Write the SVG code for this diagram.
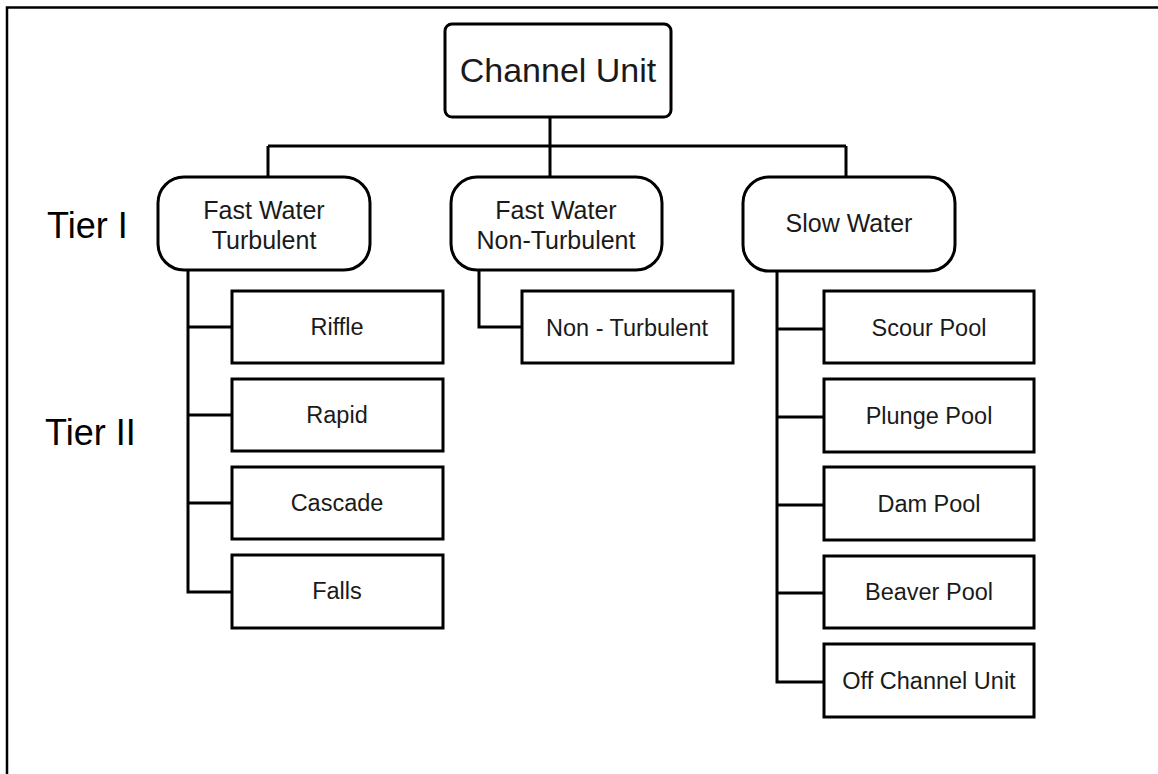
<svg xmlns="http://www.w3.org/2000/svg" width="1158" height="774" viewBox="0 0 1158 774">
<style>
.box{fill:#fff;stroke:#000;stroke-width:3}
.con{fill:none;stroke:#000;stroke-width:3}
text{font-family:"Liberation Sans",Arial,sans-serif;fill:#1a1a1a;text-anchor:middle}
.t1{font-size:25px}
.t2{font-size:23.5px}
.tier{font-size:36px;text-anchor:start;fill:#000}
</style>
<rect x="0" y="0" width="1158" height="774" fill="#fff"/>
<path d="M7,774 V7.5 H1158" fill="none" stroke="#000" stroke-width="2.5"/>
<g id="connectors">
<path class="con" d="M550,117 V146 M268,146 H846 M268,146 V177 M550,146 V177 M846,146 V177"/>
<path class="con" d="M188,270 V592 H232 M188,327 H232 M188,415 H232 M188,503 H232"/>
<path class="con" d="M479,270 V327 H522"/>
<path class="con" d="M777,271 V682 H824 M777,329 H824 M777,417 H824 M777,505 H824 M777,593 H824"/>
</g>
<g id="tier-labels">
<text class="tier" x="47" y="238">Tier I</text>
<text class="tier" x="45" y="445">Tier II</text>
</g>
<g id="channel-unit">
<rect class="box" x="445" y="24" width="226" height="93" rx="7"/>
<text x="558" y="82" style="font-size:34px">Channel Unit</text>
</g>
<g id="fast-water-turbulent">
<rect class="box" x="158" y="177" width="212" height="93" rx="26"/>
<text class="t1" x="264" y="219">Fast Water</text>
<text class="t1" x="264" y="249">Turbulent</text>
</g>
<g id="fast-water-non-turbulent">
<rect class="box" x="451" y="177" width="211" height="93" rx="26"/>
<text class="t1" x="556" y="219">Fast Water</text>
<text class="t1" x="556" y="249">Non-Turbulent</text>
</g>
<g id="slow-water">
<rect class="box" x="743" y="177" width="212" height="94" rx="26"/>
<text class="t1" x="849" y="232">Slow Water</text>
</g>
<g id="riffle"><rect class="box" x="232" y="291" width="211" height="72"/><text class="t2" x="337" y="335">Riffle</text></g>
<g id="rapid"><rect class="box" x="232" y="379" width="211" height="72"/><text class="t2" x="337" y="423">Rapid</text></g>
<g id="cascade"><rect class="box" x="232" y="467" width="211" height="72"/><text class="t2" x="337" y="511">Cascade</text></g>
<g id="falls"><rect class="box" x="232" y="555" width="211" height="73"/><text class="t2" x="337" y="599">Falls</text></g>
<g id="non-turbulent"><rect class="box" x="522" y="291" width="211" height="72"/><text class="t2" x="627" y="336">Non - Turbulent</text></g>
<g id="scour-pool"><rect class="box" x="824" y="291" width="210" height="72"/><text class="t2" x="929" y="336">Scour Pool</text></g>
<g id="plunge-pool"><rect class="box" x="824" y="379" width="210" height="73"/><text class="t2" x="929" y="424">Plunge Pool</text></g>
<g id="dam-pool"><rect class="box" x="824" y="467" width="210" height="73"/><text class="t2" x="929" y="512">Dam Pool</text></g>
<g id="beaver-pool"><rect class="box" x="824" y="556" width="210" height="72"/><text class="t2" x="929" y="600">Beaver Pool</text></g>
<g id="off-channel-unit"><rect class="box" x="824" y="644" width="210" height="73"/><text class="t2" x="929" y="689">Off Channel Unit</text></g>
</svg>
